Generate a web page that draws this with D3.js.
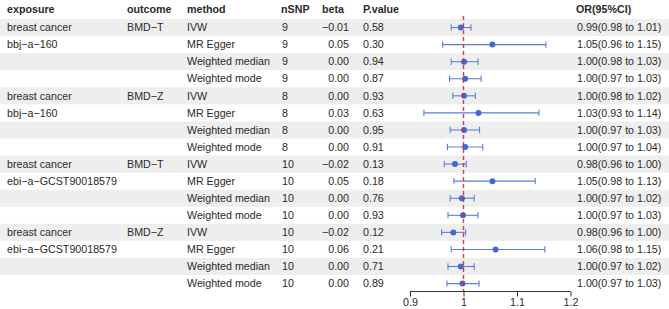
<!DOCTYPE html>
<html><head><meta charset="utf-8">
<script src="https://cdn.jsdelivr.net/npm/d3@7"></script>
<style>body{margin:0;background:#fff}svg{display:block;font-family:"Liberation Sans",Arial,sans-serif}</style>
</head><body><svg id="c" width="669" height="309"></svg>
<script>
const headers = ["exposure","outcome","method","nSNP","beta","P.value","OR(95%CI)"];
const exposure = ["breast cancer","bbj\u2212a\u2212160","","","breast cancer","bbj\u2212a\u2212160","","","breast cancer","ebi\u2212a\u2212GCST90018579","","","breast cancer","ebi\u2212a\u2212GCST90018579","",""];
const outcome = ["BMD\u2212T","","","","BMD\u2212Z","","","","BMD\u2212T","","","","BMD\u2212Z","","",""];
const method = ["IVW","MR Egger","Weighted median","Weighted mode","IVW","MR Egger","Weighted median","Weighted mode","IVW","MR Egger","Weighted median","Weighted mode","IVW","MR Egger","Weighted median","Weighted mode"];
const nSNP = ["9","9","9","9","8","8","8","8","10","10","10","10","10","10","10","10"];
const beta = ["\u22120.01","0.05","0.00","0.00","0.00","0.03","0.00","0.00","\u22120.02","0.05","0.00","0.00","\u22120.02","0.06","0.00","0.00"];
const pval = ["0.58","0.30","0.94","0.87","0.93","0.63","0.95","0.91","0.13","0.18","0.76","0.93","0.12","0.21","0.71","0.89"];
const orText = ["0.99(0.98 to 1.01)","1.05(0.96 to 1.15)","1.00(0.98 to 1.03)","1.00(0.97 to 1.03)","1.00(0.98 to 1.02)","1.03(0.93 to 1.14)","1.00(0.97 to 1.03)","1.00(0.97 to 1.04)","0.98(0.96 to 1.00)","1.05(0.98 to 1.13)","1.00(0.97 to 1.02)","1.00(0.97 to 1.03)","0.98(0.96 to 1.00)","1.06(0.98 to 1.15)","1.00(0.97 to 1.02)","1.00(0.97 to 1.03)"];
const orEst = [0.995,1.054,1.001,1.003,1.001,1.028,1.001,1.003,0.984,1.054,0.997,0.999,0.981,1.060,0.995,0.998];
const orLo  = [0.977,0.961,0.977,0.974,0.980,0.926,0.975,0.970,0.964,0.982,0.975,0.971,0.959,0.977,0.971,0.969];
const orHi  = [1.014,1.154,1.027,1.033,1.022,1.141,1.030,1.036,1.005,1.134,1.020,1.027,1.004,1.152,1.020,1.029];
const xTicks = [0.9,1,1.1,1.2];

const svg = d3.select("#c");
const n = method.length;
const y = d3.scaleBand().domain(d3.range(n)).range([19, 19 + 17.07*n]).padding(0);
const x = d3.scaleLinear().domain([0.9,1.2]).range([410,570.5]);
const fs = "10.7px", tc = "#2a2a2a";

svg.append("g").selectAll("rect").data(d3.range(n).filter(i=>i%2===0)).join("rect")
  .attr("x",0).attr("width",669).attr("y",i=>y(i)).attr("height",y.bandwidth()).attr("fill","#eeeeee");

const cols = [
  {h:headers[0], x:7, data:exposure, anchor:"start", hx:7},
  {h:headers[1], x:127, data:outcome, anchor:"start", hx:127},
  {h:headers[2], x:187, data:method, anchor:"start", hx:187},
  {h:headers[3], x:282, data:nSNP, anchor:"start", hx:281},
  {h:headers[4], x:349, data:beta, anchor:"end", hx:322},
  {h:headers[5], x:363, data:pval, anchor:"start", hx:363},
  {h:headers[6], x:577, data:orText, anchor:"start", hx:576}
];
cols.forEach(c=>{
  svg.append("text").attr("x",c.hx).attr("y",9).attr("dy","0.35em").attr("font-size",fs)
    .attr("font-weight","bold").attr("fill",tc).text(c.h);
  svg.append("g").selectAll("text").data(c.data).join("text")
    .attr("x",c.x).attr("y",(d,i)=>y(i)+y.bandwidth()/2).attr("dy","0.35em")
    .attr("text-anchor",c.anchor).attr("font-size",fs).attr("fill",tc).text(d=>d);
});

const g = svg.append("g");
const cy = i=>y(i)+y.bandwidth()/2;
const ciCol = "#5b7fd6", ptCol = "#3f68d8";
g.selectAll("line.ci").data(d3.range(n)).join("line").attr("class","ci")
  .attr("x1",i=>x(orLo[i])).attr("x2",i=>x(orHi[i])).attr("y1",cy).attr("y2",cy)
  .attr("stroke",ciCol).attr("stroke-width",1.1);
g.selectAll("line.capl").data(d3.range(n)).join("line").attr("class","capl")
  .attr("x1",i=>x(orLo[i])).attr("x2",i=>x(orLo[i])).attr("y1",i=>cy(i)-3.2).attr("y2",i=>cy(i)+3.2)
  .attr("stroke",ciCol).attr("stroke-width",1.1);
g.selectAll("line.caph").data(d3.range(n)).join("line").attr("class","caph")
  .attr("x1",i=>x(orHi[i])).attr("x2",i=>x(orHi[i])).attr("y1",i=>cy(i)-3.2).attr("y2",i=>cy(i)+3.2)
  .attr("stroke",ciCol).attr("stroke-width",1.1);
g.selectAll("circle").data(d3.range(n)).join("circle")
  .attr("cx",i=>x(orEst[i])).attr("cy",cy).attr("r",3).attr("fill",ptCol);

svg.append("line").attr("x1",x(1)).attr("x2",x(1)).attr("y1",16).attr("y2",291.5)
  .attr("stroke","#e3242b").attr("stroke-width",1.4).attr("stroke-dasharray","4,3").attr("opacity",0.9);

const ax = svg.append("g").attr("transform","translate(0,291.5)")
  .call(d3.axisBottom(x).tickValues(xTicks).tickFormat(d3.format("")).tickSize(5).tickPadding(2));
ax.select(".domain").attr("stroke","#333").attr("d",`M${x(0.9)},0H${x(1.2)}`);
ax.selectAll(".tick line").attr("stroke","#333");
ax.selectAll("text").attr("font-size",fs).attr("fill",tc).attr("font-family","Liberation Sans,Arial,sans-serif");
</script></body></html>
